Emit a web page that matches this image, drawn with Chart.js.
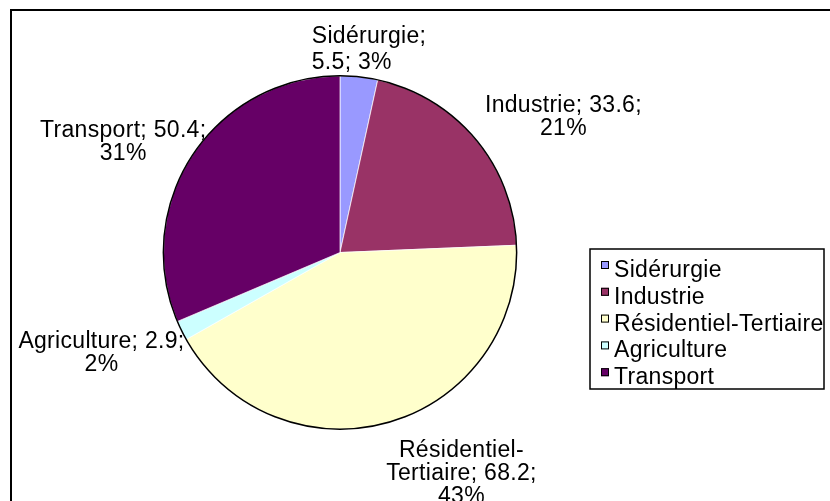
<!DOCTYPE html>
<html>
<head>
<meta charset="utf-8">
<title>Consommation par secteur</title>
<script src="https://cdn.jsdelivr.net/npm/chart.js@4/dist/chart.umd.min.js"></script>
<style>
  html, body { margin: 0; padding: 0; background: #fff; }
  #wrap { position: relative; width: 830px; height: 501px; overflow: hidden; }
</style>
</head>
<body>
<div id="wrap"><canvas id="chart" width="830" height="501"></canvas></div>
<script>
// ============================================
// Répartition par secteur - camembert façon Excel
// ============================================

const FONT = '"Liberation Sans", Arial, sans-serif';
const FONT_SIZE = 23;
const LINE_H = 23;

// valeur + pourcentage affiché, lus sur le graphique
// wrap : où l'étiquette passe à la ligne ; nudge : petit décalage de l'étiquette
const sectors = [
    { label: 'Sidérurgie', value: 5.5, pct: 3, color: '#9999FF', wrap: 'name', align: 'left', nudge: [9, 4] },
    { label: 'Industrie', value: 33.6, pct: 21, color: '#993366', wrap: 'pct', nudge: [2, 8] },
    { label: 'Résidentiel-Tertiaire', value: 68.2, pct: 43, color: '#FFFFCC', wrap: 'hyphen', nudge: [-5, 7] },
    { label: 'Agriculture', value: 2.9, pct: 2, color: '#CCFFFF', wrap: 'pct', nudge: [12, -5] },
    { label: 'Transport', value: 50.4, pct: 31, color: '#660066', wrap: 'pct', nudge: [22, 16] }
];

/**
 * Build the wrapped lines of a data label ("Nom; valeur; pct%")
 */
function labelLines(s) {
    if (s.wrap === 'name') {
        return [s.label + ';', s.value + '; ' + s.pct + '%'];
    }
    if (s.wrap === 'hyphen') {
        const parts = s.label.split('-');
        return [parts[0] + '-', parts[1] + '; ' + s.value + ';', s.pct + '%'];
    }
    return [s.label + '; ' + s.value + ';', s.pct + '%'];
}

function setFont(ctx) {
    ctx.font = FONT_SIZE + 'px ' + FONT;
    if ('letterSpacing' in ctx) ctx.letterSpacing = '0.3px';
}

// cadre du graphique (bords haut et gauche visibles)
const framePlugin = {
    id: 'frame',
    beforeDraw(chart) {
        const ctx = chart.ctx;
        ctx.save();
        ctx.strokeStyle = '#000';
        ctx.lineWidth = 2;
        ctx.strokeRect(11, 10, chart.width + 20, chart.height + 20);
        ctx.restore();
    }
};

// contour noir du camembert + étiquettes à l'extérieur
const pieDecorPlugin = {
    id: 'pieDecor',
    afterDatasetsDraw(chart) {
        const ctx = chart.ctx;
        const meta = chart.getDatasetMeta(0);
        const first = meta.data[0];
        const cx = first.x, cy = first.y, r = first.outerRadius;

        ctx.save();
        ctx.beginPath();
        ctx.arc(cx, cy, r, 0, Math.PI * 2);
        ctx.strokeStyle = '#000';
        ctx.lineWidth = 1.5;
        ctx.stroke();

        setFont(ctx);
        ctx.fillStyle = '#000';
        ctx.textBaseline = 'alphabetic';

        const gap = 10;
        meta.data.forEach((arc, i) => {
            const s = sectors[i];
            const mid = (arc.startAngle + arc.endAngle) / 2;
            const px = cx + Math.cos(mid) * (r + gap);
            const py = cy + Math.sin(mid) * (r + gap);
            const sx = Math.cos(mid), sy = Math.sin(mid);

            const lines = labelLines(s);
            const w = Math.max(...lines.map(l => ctx.measureText(l).width));
            const h = lines.length * LINE_H;

            let centerX = px;
            if (sx > 0.2) centerX = px + w / 2;
            else if (sx < -0.2) centerX = px - w / 2;

            let top = py - h / 2;
            if (sy < -0.2) top = py - h;
            else if (sy > 0.2) top = py;

            centerX += s.nudge[0];
            top += s.nudge[1];

            if (s.align === 'left') {
                ctx.textAlign = 'left';
                lines.forEach((line, k) => {
                    ctx.fillText(line, centerX - w / 2, top + 18 + k * (LINE_H + 3));
                });
            } else {
                ctx.textAlign = 'center';
                lines.forEach((line, k) => {
                    ctx.fillText(line, centerX, top + 18 + k * LINE_H);
                });
            }
        });
        ctx.restore();
    }
};

// légende encadrée à droite
const boxLegendPlugin = {
    id: 'boxLegend',
    afterDraw(chart) {
        const ctx = chart.ctx;
        const box = { x: 590, y: 249, w: 234, h: 140 };
        ctx.save();
        ctx.fillStyle = '#fff';
        ctx.fillRect(box.x, box.y, box.w, box.h);
        ctx.strokeStyle = '#000';
        ctx.lineWidth = 1.5;
        ctx.strokeRect(box.x, box.y, box.w, box.h);

        setFont(ctx);
        ctx.textAlign = 'left';
        ctx.textBaseline = 'alphabetic';
        sectors.forEach((s, i) => {
            const base = box.y + 28 + i * 26.8;
            ctx.fillStyle = s.color;
            ctx.fillRect(601, base - 16, 8, 8);
            ctx.strokeStyle = '#000';
            ctx.lineWidth = 1;
            ctx.strokeRect(601.5, base - 15.5, 7, 7);
            ctx.fillStyle = '#000';
            ctx.fillText(s.label, 614, base);
        });
        ctx.restore();
    }
};

const canvas = document.getElementById('chart');
new Chart(canvas.getContext('2d'), {
    type: 'pie',
    data: {
        labels: sectors.map(s => s.label),
        datasets: [{
            data: sectors.map(s => s.value),
            backgroundColor: sectors.map(s => s.color),
            borderColor: '#ffffff',
            borderWidth: 0.7
        }]
    },
    options: {
        responsive: false,
        animation: false,
        layout: {
            padding: { left: 163, right: 313, top: 75, bottom: 71 }
        },
        plugins: {
            legend: { display: false },
            tooltip: { enabled: false }
        }
    },
    plugins: [framePlugin, pieDecorPlugin, boxLegendPlugin]
});
</script>
</body>
</html>
